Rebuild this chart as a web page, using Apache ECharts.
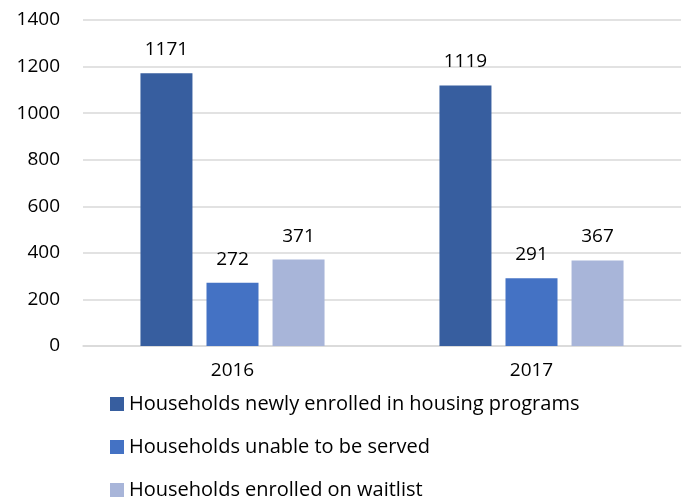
<!DOCTYPE html>
<html>
<head>
<meta charset="utf-8">
<script src="https://cdn.jsdelivr.net/npm/echarts@6/dist/echarts.min.js"></script>
<style>
  html, body { margin: 0; padding: 0; background: #fff; }
  #chart { width: 684px; height: 502px; }
</style>
</head>
<body>
<div id="chart"></div>
<script>
const years = ["2016", "2017"];
const newlyEnrolled = [1171, 1119];
const unableServed = [272, 291];
const waitlist = [371, 367];
const seriesNames = [
  "Households newly enrolled in housing programs",
  "Households unable to be served",
  "Households enrolled on waitlist"
];
const colors = ["#375E9F", "#4472C4", "#A8B5D9"];

const chart = echarts.init(document.getElementById("chart"));
const font = "'Open Sans', sans-serif";

function bar(name, data, color) {
  return {
    name: name,
    type: "bar",
    data: data,
    barWidth: 52,
    barGap: "27%",
    itemStyle: { color: color },
    label: {
      show: true,
      position: "top",
      distance: 14,
      color: "#000",
      fontSize: 19,
      fontFamily: font,
    },
  };
}

chart.setOption({
  backgroundColor: "#fff",
  animation: false,
  color: colors,
  legend: {
    orient: "vertical",
    left: 110,
    top: 394,
    padding: 0,
    itemWidth: 14,
    itemHeight: 14,
    itemGap: 23,
    icon: "rect",
    textStyle: { fontSize: 20, color: "#000", fontFamily: font },
    data: seriesNames,
  },
  grid: { left: 83, right: 3, top: 20, bottom: 156 },
  xAxis: {
    type: "category",
    data: years,
    axisTick: { show: false },
    axisLine: { lineStyle: { color: "#d9d9d9", width: 1.5 } },
    axisLabel: { color: "#000", fontSize: 19, fontFamily: font, margin: 15 },
  },
  yAxis: {
    type: "value",
    min: 0,
    max: 1400,
    interval: 200,
    axisLine: { show: false },
    axisTick: { show: false },
    splitLine: { lineStyle: { color: "#d9d9d9", width: 1.5 } },
    axisLabel: {
      color: "#000",
      fontSize: 19,
      fontFamily: font,
      margin: 23,
      formatter: (v) => String(v),
    },
  },
  series: [
    bar(seriesNames[0], newlyEnrolled, colors[0]),
    bar(seriesNames[1], unableServed, colors[1]),
    bar(seriesNames[2], waitlist, colors[2]),
  ],
});
</script>
</body>
</html>
